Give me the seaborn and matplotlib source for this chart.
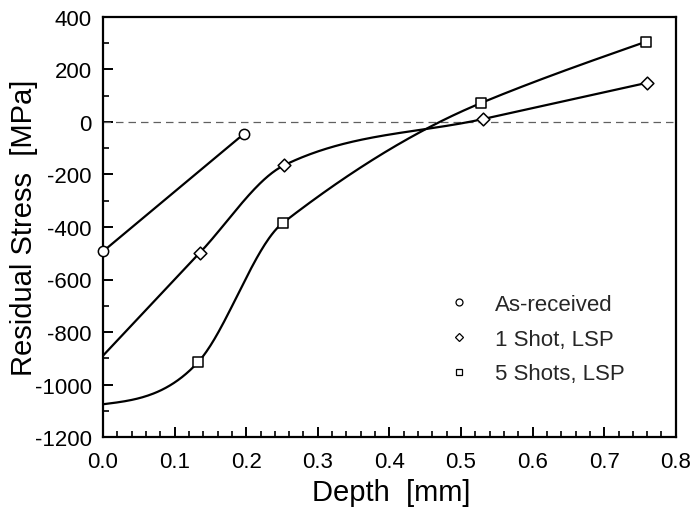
import numpy as np
import pandas as pd
import matplotlib
matplotlib.use("Agg")
import matplotlib.pyplot as plt
from matplotlib.ticker import MultipleLocator, FormatStrFormatter
from matplotlib.lines import Line2D
import seaborn as sns

# ---- data ----
as_depth = [0.0, 0.197]
as_stress = [-493, -45]

one_depth = [0.0, 0.135, 0.253, 0.531, 0.760]
one_stress = [-890, -499, -165, 11, 149]
one_marked = [False, True, True, True, True]

five_depth = [0.0, 0.133, 0.251, 0.528, 0.758]
five_stress = [-1075, -914, -385, 72, 305]
five_marked = [False, True, True, True, True]

labels = ["As-received", "1 Shot, LSP", "5 Shots, LSP"]


def akima(x, y, n=400):
    """Akima-type spline through the points (interior Akima tangents,
    natural-type end tangents)."""
    x = np.asarray(x, float)
    y = np.asarray(y, float)
    h = np.diff(x)
    m = np.diff(y) / h
    mm = np.concatenate([[3 * m[0] - 2 * m[1], 2 * m[0] - m[1]], m,
                         [2 * m[-1] - m[-2], 3 * m[-1] - 2 * m[-2]]])
    k = len(x)
    t = np.zeros(k)
    for i in range(k):
        w1 = abs(mm[i + 3] - mm[i + 2])
        w2 = abs(mm[i + 1] - mm[i])
        if w1 + w2 < 1e-12:
            t[i] = 0.5 * (mm[i + 1] + mm[i + 2])
        else:
            t[i] = (w1 * mm[i + 1] + w2 * mm[i + 2]) / (w1 + w2)
    t[0] = 1.5 * m[0] - 0.5 * t[1]
    t[-1] = 1.5 * m[-1] - 0.5 * t[-2]
    xs = np.linspace(x[0], x[-1], n)
    idx = np.clip(np.searchsorted(x, xs) - 1, 0, k - 2)
    s = (xs - x[idx]) / h[idx]
    hh = h[idx]
    h00 = 2 * s**3 - 3 * s**2 + 1
    h10 = s**3 - 2 * s**2 + s
    h01 = -2 * s**3 + 3 * s**2
    h11 = s**3 - s**2
    ys = h00 * y[idx] + h10 * hh * t[idx] + h01 * y[idx + 1] + h11 * hh * t[idx + 1]
    return xs, ys


sns.set_theme(style="ticks")
plt.rcParams["font.family"] = ["Liberation Sans", "DejaVu Sans"]
plt.rcParams["axes.unicode_minus"] = False

fig = plt.figure(figsize=(6.96, 5.10), dpi=100)
ax = fig.add_axes([0.148, 0.141, 0.823, 0.824])

ax.axhline(0, color="#606060", lw=0.9, ls=(0, (6, 4)), zorder=1)

# curves
sns.lineplot(x=as_depth, y=as_stress, ax=ax, color="black", lw=1.6, sort=False, zorder=2)
cx, cy = akima(one_depth, one_stress)
sns.lineplot(x=cx, y=cy, ax=ax, color="black", lw=1.6, sort=False, estimator=None, zorder=2)
cx, cy = akima(five_depth, five_stress)
sns.lineplot(x=cx, y=cy, ax=ax, color="black", lw=1.6, sort=False, estimator=None, zorder=2)

# markers
mk = dict(facecolor="white", edgecolor="black", linewidth=1.1, zorder=3, clip_on=False)
sns.scatterplot(x=as_depth, y=as_stress, ax=ax, marker="o", s=55, **mk)
od = [d for d, f in zip(one_depth, one_marked) if f]
os_ = [s for s, f in zip(one_stress, one_marked) if f]
sns.scatterplot(x=od, y=os_, ax=ax, marker="D", s=42, **mk)
fd = [d for d, f in zip(five_depth, five_marked) if f]
fs = [s for s, f in zip(five_stress, five_marked) if f]
sns.scatterplot(x=fd, y=fs, ax=ax, marker="s", s=48, **mk)

# legend (markers only)
handles = [
    Line2D([], [], ls="none", marker="o", ms=5, mfc="white", mec="black", mew=0.9),
    Line2D([], [], ls="none", marker="D", ms=4.2, mfc="white", mec="black", mew=0.9),
    Line2D([], [], ls="none", marker="s", ms=4.6, mfc="white", mec="black", mew=0.9),
]
ax.legend(handles, labels, loc="upper left", bbox_to_anchor=(0.583, 0.362),
          frameon=False, fontsize=16, handletextpad=1.0, labelspacing=0.62,
          handlelength=1.2, borderaxespad=0)

ax.set_xlim(0.0, 0.8)
ax.set_ylim(-1200, 400)
ax.xaxis.set_major_locator(MultipleLocator(0.1))
ax.xaxis.set_minor_locator(MultipleLocator(0.02))
ax.yaxis.set_major_locator(MultipleLocator(200))
ax.yaxis.set_minor_locator(MultipleLocator(100))
ax.xaxis.set_major_formatter(FormatStrFormatter("%.1f"))
ax.tick_params(which="major", direction="in", length=7, width=1.4,
               labelsize=16, color="black", labelcolor="black")
ax.tick_params(axis="x", which="major", pad=10)
ax.tick_params(axis="y", which="major", pad=8)
ax.tick_params(which="minor", direction="in", length=4, width=1.2, color="black")
ax.tick_params(top=False, right=False)
for sp in ax.spines.values():
    sp.set_linewidth(1.6)
    sp.set_color("black")
    sp.set_visible(True)

ax.set_xlabel("Depth  [mm]", fontsize=21, color="black")
ax.set_ylabel("Residual Stress  [MPa]", fontsize=21, color="black")
ax.xaxis.set_label_coords(0.504, -0.098)
ax.yaxis.set_label_coords(-0.113, 0.5)

fig.savefig("out.png", dpi=100, facecolor="white")
